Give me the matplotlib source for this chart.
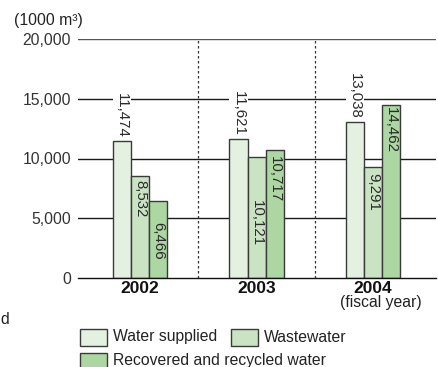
import matplotlib
matplotlib.use("Agg")
import matplotlib.pyplot as plt
from matplotlib.patches import Rectangle

plt.rcParams['font.family'] = ['Liberation Sans', 'DejaVu Sans']

years = ["2002", "2003", "2004"]
series_names = ["Water supplied", "Wastewater", "Recovered and recycled water"]
water_supplied = [11474, 11621, 13038]
wastewater = [8532, 10121, 9291]
recovered = [6466, 10717, 14462]
yticks = [0, 5000, 10000, 15000, 20000]
ytick_labels = ["0", "5,000", "10,000", "15,000", "20,000"]

colors = ["#e4f0e0", "#c9e3c3", "#acd6a2"]
edge = "#3a3a3a"
text_col = "#2a2a2a"

# how far (pixels) each in-bar value label sits below its bar top
inner_drop = {1: [4, 43, 6], 2: [21, 6, 2]}

fig = plt.figure(figsize=(4.38, 3.67), dpi=100)
ax = fig.add_axes([78 / 438, 1 - 278 / 367, 358 / 438, 239 / 367])

width = 0.155
offsets = [-width, 0.0, width]
all_series = [water_supplied, wastewater, recovered]
xs = list(range(len(years)))

for i, vals in enumerate(all_series):
    pos = [x + offsets[i] for x in xs]
    ax.bar(pos, vals, width=width, color=colors[i], edgecolor=edge,
           linewidth=1.0, zorder=3)
    for j, v in enumerate(vals):
        label = f"{v:,}"
        if i == 0:
            ax.annotate(label, (pos[j], v), xytext=(0, 3), textcoords='offset pixels',
                        rotation=-90, ha='center', va='bottom', fontsize=10.8,
                        color=text_col, zorder=5,
                        bbox=dict(facecolor='white', edgecolor='none', pad=1.5))
        else:
            ax.annotate(label, (pos[j], v), xytext=(0, -inner_drop[i][j]),
                        textcoords='offset pixels', rotation=-90, ha='center',
                        va='top', fontsize=10.8, color=text_col, zorder=5)

# horizontal reference lines
for t in yticks[1:]:
    ax.axhline(t, color='#555555' if t == 20000 else '#1a1a1a', lw=1.0, zorder=1)

# dotted separators between years
for s in [0.5, 1.5]:
    ax.axvline(s, color='#333333', lw=0.9, linestyle=(0, (2, 2)), zorder=1)

ax.set_xlim(-0.532, 2.54)
ax.set_ylim(0, 20000)
ax.set_yticks(yticks)
ax.set_yticklabels(ytick_labels, fontsize=11.3, color='#333333')
ax.tick_params(axis='y', length=0, pad=5)
ax.set_xticks(xs)
ax.set_xticklabels(years, fontsize=12.5, fontweight='bold', color='#111111')
ax.tick_params(axis='x', length=0, pad=2)
for side in ['left', 'right', 'top']:
    ax.spines[side].set_visible(False)
ax.spines['bottom'].set_color('#111111')
ax.spines['bottom'].set_linewidth(1.0)
ax.spines['bottom'].set_zorder(4)

fig.text(381 / 438, 1 - 303 / 367, "(fiscal year)", ha='center', va='center',
         fontsize=11.3, color='#222222')
fig.text(14 / 438, 1 - 20 / 367, "(1000 m³)", ha='left', va='center',
         fontsize=11.3, color='#222222')
fig.text(0.5 / 438, 1 - 320 / 367, "d", ha='left', va='center',
         fontsize=11.3, color='#222222')

# legend drawn as boxes and text in figure pixels
def legend_item(x, y, color, label):
    fig.patches.append(Rectangle((x / 438, 1 - (y + 8.5) / 367), 27 / 438, 17 / 367,
                                 transform=fig.transFigure, facecolor=color,
                                 edgecolor=edge, linewidth=1.0))
    fig.text((x + 33) / 438, 1 - y / 367, label, ha='left', va='center',
             fontsize=11.3, color='#222222')

legend_item(80, 337, colors[0], series_names[0])
legend_item(231, 337, colors[1], series_names[1])
legend_item(80, 361, colors[2], series_names[2])

fig.savefig("out.png", dpi=100)
